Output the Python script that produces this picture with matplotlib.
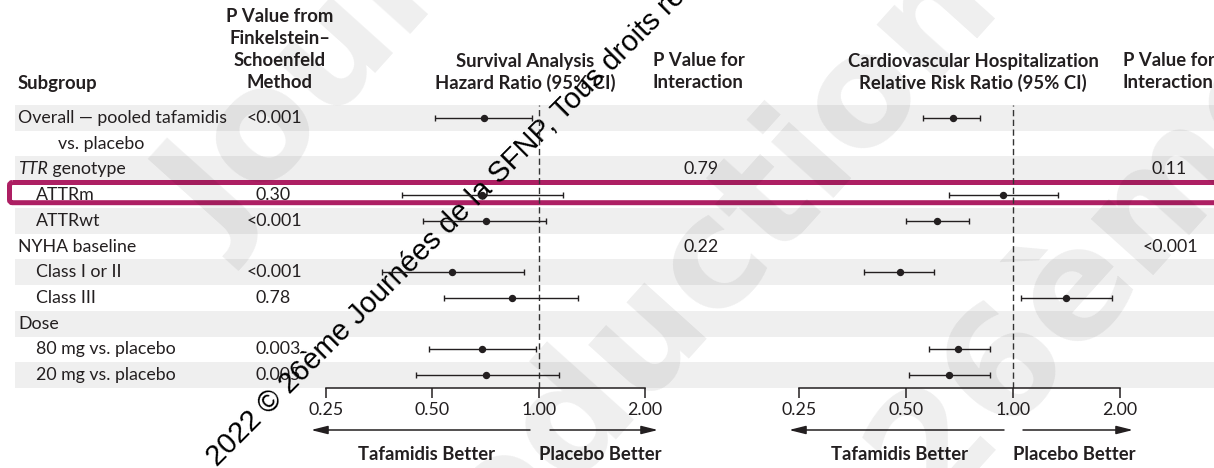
import matplotlib.pyplot as plt
from matplotlib.patches import FancyBboxPatch
from matplotlib.ticker import NullLocator

plt.rcParams['font.family'] = ['Lato', 'DejaVu Sans']

# one entry per printed line of the table
rows = ["Overall \u2014 pooled tafamidis", "vs. placebo", "TTR genotype", "ATTRm", "ATTRwt",
        "NYHA baseline", "Class I or II", "Class III", "Dose",
        "80 mg vs. placebo", "20 mg vs. placebo"]
indent = [0, 2, 0, 1, 1, 0, 1, 1, 0, 1, 1]

p_fs = ["<0.001", "", "", "0.30", "<0.001", "", "<0.001", "0.78", "", "0.003", "0.005"]

# survival analysis, hazard ratio (95% CI)
hr = [0.70, None, None, 0.69, 0.71, None, 0.57, 0.84, None, 0.69, 0.71]
hr_lo = [0.51, None, None, 0.41, 0.47, None, 0.36, 0.54, None, 0.49, 0.45]
hr_hi = [0.96, None, None, 1.17, 1.05, None, 0.91, 1.29, None, 0.98, 1.14]
p_int_hr = ["", "", "0.79", "", "", "0.22", "", "", "", "", ""]

# cardiovascular hospitalization, relative risk ratio (95% CI)
rr = [0.68, None, None, 0.94, 0.61, None, 0.48, 1.41, None, 0.70, 0.66]
rr_lo = [0.56, None, None, 0.66, 0.50, None, 0.38, 1.05, None, 0.58, 0.51]
rr_hi = [0.81, None, None, 1.34, 0.75, None, 0.60, 1.90, None, 0.86, 0.86]
p_int_rr = ["", "", "0.11", "", "", "<0.001", "", "", "", "", ""]

ticks = [0.25, 0.5, 1.0, 2.0]
tick_labels = ["0.25", "0.50", "1.00", "2.00"]

ink = '#231f20'
W, H = 1214, 468
top, step = 105, 25.73
n = len(rows)
fs = 12.8    # body text
hfs = 13.3   # bold headers


def row_y(i):
    return top + step * (i + 0.5)


fig = plt.figure(figsize=(W / 100, H / 100), dpi=100)
bg = fig.add_axes([0, 0, 1, 1])
bg.set_xlim(0, W)
bg.set_ylim(H, 0)
bg.axis('off')

# zebra stripes
for i in range(0, n, 2):
    bg.axhspan(top + step * i, top + step * (i + 1), xmin=15 / W, xmax=1, color='#efefef', lw=0, zorder=0)

# column headers
hdr = dict(fontsize=hfs, fontweight='bold', color=ink, va='center')
bg.text(18, 83, "Subgroup", ha='left', **hdr)
for k, line in enumerate(["P Value from", "Finkelstein\u2013", "Schoenfeld", "Method"]):
    bg.text(280, 17 + 22 * k, line, ha='center', **hdr)
bg.text(525, 61, "Survival Analysis", ha='center', **hdr)
bg.text(525, 83, "Hazard Ratio (95% CI)", ha='center', **hdr)
bg.text(973, 61, "Cardiovascular Hospitalization", ha='center', **hdr)
bg.text(973, 83, "Relative Risk Ratio (95% CI)", ha='center', **hdr)
for x in (653, 1123):
    bg.text(x, 61, "P Value for", ha='left', **hdr)
    bg.text(x, 83, "Interaction", ha='left', **hdr)

# subgroup names and p values
txt = dict(fontsize=fs, color=ink, va='center')
indent_x = [18, 36, 58]
for i, label in enumerate(rows):
    y = row_y(i)
    if label.startswith("TTR"):
        t = bg.text(indent_x[indent[i]], y, "TTR", style='italic', ha='left', **txt)
        bg.annotate(" genotype", xy=(1, 0), xycoords=t, ha='left', va='bottom',
                    fontsize=fs, color=ink)
    else:
        bg.text(indent_x[indent[i]], y, label, ha='left', **txt)
    if p_fs[i]:
        bg.text(247 if p_fs[i].startswith("<") else 256, y, p_fs[i], ha='left', **txt)
    if p_int_hr[i]:
        bg.text(674 if p_int_hr[i].startswith("<") else 683, y, p_int_hr[i], ha='left', **txt)
    if p_int_rr[i]:
        bg.text(1143 if p_int_rr[i].startswith("<") else 1152, y, p_int_rr[i], ha='left', **txt)


def forest(x0, x1, est, lo, hi):
    ax = fig.add_axes([x0 / W, (H - 388) / H, (x1 - x0) / W, (388 - top) / H])
    ax.patch.set_visible(False)
    ax.set_xscale('log', base=2)
    ax.set_xlim(0.25, 2.0)
    ax.set_ylim(n, 0)
    for s in ['top', 'right', 'left']:
        ax.spines[s].set_visible(False)
    ax.spines['bottom'].set_linewidth(1.1)
    ax.spines['bottom'].set_color(ink)
    ax.set_xticks(ticks)
    ax.set_xticklabels(tick_labels)
    ax.xaxis.set_minor_locator(NullLocator())
    ax.set_yticks([])
    ax.tick_params(axis='x', direction='out', length=7, width=1.1, pad=3,
                   labelsize=fs, color=ink, labelcolor=ink)
    ax.axvline(1.0, color='#333333', lw=1, ls=(0, (4.5, 2.5)), zorder=1)
    for i, (e, l, h) in enumerate(zip(est, lo, hi)):
        if e is None:
            continue
        ax.errorbar(e, i + 0.5, xerr=[[e - l], [h - e]], fmt='o', ms=4.3, color=ink,
                    ecolor=ink, elinewidth=1, capsize=2.5, capthick=1, zorder=3)
    return ax


ax1 = forest(326, 645, hr, hr_lo, hr_hi)
ax2 = forest(799, 1120, rr, rr_lo, rr_hi)

# direction arrows and labels
arrow = dict(arrowstyle='-|>,head_length=1.0,head_width=0.25', mutation_scale=10,
             lw=1.1, color=ink, shrinkA=0, shrinkB=0)
for x_mid_l, tip_l, x_mid_r, tip_r, cx_l, cx_r in [(530, 311, 550, 658, 427, 600),
                                                   (1004, 789, 1023, 1133, 900, 1074)]:
    bg.annotate('', xy=(tip_l, 430), xytext=(x_mid_l, 430), arrowprops=arrow)
    bg.annotate('', xy=(tip_r, 430), xytext=(x_mid_r, 430), arrowprops=arrow)
    bg.text(cx_l, 455, "Tafamidis Better", ha='center', **hdr)
    bg.text(cx_r, 455, "Placebo Better", ha='center', **hdr)

# highlighted row
box = FancyBboxPatch((9.5, 182.5), 1240, 20.2, boxstyle='round,pad=0,rounding_size=3',
                     ec='#ad1f63', fc='none', lw=3.6, zorder=5)
bg.add_patch(box)

# watermarks
wm = dict(fontsize=110, fontweight='bold', family='DejaVu Sans', color='black', alpha=0.065,
          rotation=48, rotation_mode='anchor', zorder=6)
bg.text(225, 250, "Journées", ha='left', va='baseline', **wm)
bg.text(1000, 0, "reproduction", ha='right', va='baseline', **wm)
bg.text(930, 510, "26ème", ha='left', va='baseline', **wm)
bg.text(217, 467, "2022 © 26ème Journées de la SFNP, Tous droits réservés", ha='left',
        va='baseline', rotation=45, rotation_mode='anchor', fontsize=21,
        family='Liberation Sans', color='black', zorder=7)

fig.savefig('out.png', dpi=100)
